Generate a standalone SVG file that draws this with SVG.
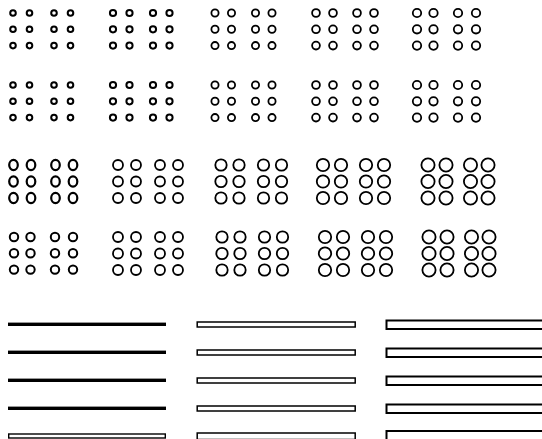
<svg xmlns="http://www.w3.org/2000/svg" width="542" height="439" viewBox="0 0 542 439">
<style>
circle,ellipse{fill:none;stroke:#000}
.s1{stroke-width:2}
.s2{stroke-width:1.8}
.s3{stroke-width:2.2}
.solid{fill:#000;stroke:none}
.hollow{fill:#fff;stroke:#000}
</style>
<rect width="542" height="439" fill="#fff"/>
<defs>
<g id="d1"><circle cx="0" cy="0" r="2.8"/><circle cx="16.5" cy="0" r="2.8"/><circle cx="41" cy="0" r="2.8"/><circle cx="57.5" cy="0" r="2.8"/><circle cx="0" cy="16.3" r="2.8"/><circle cx="16.5" cy="16.3" r="2.8"/><circle cx="41" cy="16.3" r="2.8"/><circle cx="57.5" cy="16.3" r="2.8"/><circle cx="0" cy="32.6" r="2.8"/><circle cx="16.5" cy="32.6" r="2.8"/><circle cx="41" cy="32.6" r="2.8"/><circle cx="57.5" cy="32.6" r="2.8"/></g>
<g id="d2"><circle cx="0" cy="0" r="3.1"/><circle cx="16.5" cy="0" r="3.1"/><circle cx="40" cy="0" r="3.1"/><circle cx="56.5" cy="0" r="3.1"/><circle cx="0" cy="16.3" r="3.1"/><circle cx="16.5" cy="16.3" r="3.1"/><circle cx="40" cy="16.3" r="3.1"/><circle cx="56.5" cy="16.3" r="3.1"/><circle cx="0" cy="32.6" r="3.1"/><circle cx="16.5" cy="32.6" r="3.1"/><circle cx="40" cy="32.6" r="3.1"/><circle cx="56.5" cy="32.6" r="3.1"/></g>
<g id="d3"><circle cx="0" cy="0" r="3.6"/><circle cx="16.5" cy="0" r="3.6"/><circle cx="40.5" cy="0" r="3.6"/><circle cx="57" cy="0" r="3.6"/><circle cx="0" cy="16.3" r="3.6"/><circle cx="16.5" cy="16.3" r="3.6"/><circle cx="40.5" cy="16.3" r="3.6"/><circle cx="57" cy="16.3" r="3.6"/><circle cx="0" cy="32.6" r="3.6"/><circle cx="16.5" cy="32.6" r="3.6"/><circle cx="40.5" cy="32.6" r="3.6"/><circle cx="57" cy="32.6" r="3.6"/></g>
<g id="d4"><circle cx="0" cy="0" r="3.9"/><circle cx="17" cy="0" r="3.9"/><circle cx="41" cy="0" r="3.9"/><circle cx="58" cy="0" r="3.9"/><circle cx="0" cy="16.3" r="3.9"/><circle cx="17" cy="16.3" r="3.9"/><circle cx="41" cy="16.3" r="3.9"/><circle cx="58" cy="16.3" r="3.9"/><circle cx="0" cy="32.6" r="3.9"/><circle cx="17" cy="32.6" r="3.9"/><circle cx="41" cy="32.6" r="3.9"/><circle cx="58" cy="32.6" r="3.9"/></g>
<g id="d5"><circle cx="0" cy="0" r="4.2"/><circle cx="16.5" cy="0" r="4.2"/><circle cx="41" cy="0" r="4.2"/><circle cx="59" cy="0" r="4.2"/><circle cx="0" cy="16.3" r="4.2"/><circle cx="16.5" cy="16.3" r="4.2"/><circle cx="41" cy="16.3" r="4.2"/><circle cx="59" cy="16.3" r="4.2"/><circle cx="0" cy="32.6" r="4.2"/><circle cx="16.5" cy="32.6" r="4.2"/><circle cx="41" cy="32.6" r="4.2"/><circle cx="59" cy="32.6" r="4.2"/></g>
<g id="e1"><ellipse cx="0" cy="0" rx="4.3" ry="5.1"/><ellipse cx="17.5" cy="0" rx="4.3" ry="5.1"/><ellipse cx="42" cy="0" rx="4.3" ry="5.1"/><ellipse cx="59.5" cy="0" rx="4.3" ry="5.1"/><ellipse cx="0" cy="16.5" rx="4.3" ry="5.1"/><ellipse cx="17.5" cy="16.5" rx="4.3" ry="5.1"/><ellipse cx="42" cy="16.5" rx="4.3" ry="5.1"/><ellipse cx="59.5" cy="16.5" rx="4.3" ry="5.1"/><ellipse cx="0" cy="33" rx="4.3" ry="5.1"/><ellipse cx="17.5" cy="33" rx="4.3" ry="5.1"/><ellipse cx="42" cy="33" rx="4.3" ry="5.1"/><ellipse cx="59.5" cy="33" rx="4.3" ry="5.1"/></g>
<g id="e2"><circle cx="0" cy="0" r="5"/><circle cx="18" cy="0" r="5"/><circle cx="42" cy="0" r="5"/><circle cx="60" cy="0" r="5"/><circle cx="0" cy="16.5" r="5"/><circle cx="18" cy="16.5" r="5"/><circle cx="42" cy="16.5" r="5"/><circle cx="60" cy="16.5" r="5"/><circle cx="0" cy="33" r="5"/><circle cx="18" cy="33" r="5"/><circle cx="42" cy="33" r="5"/><circle cx="60" cy="33" r="5"/></g>
<g id="e3"><circle cx="0" cy="0" r="5.7"/><circle cx="18" cy="0" r="5.7"/><circle cx="42.5" cy="0" r="5.7"/><circle cx="60.5" cy="0" r="5.7"/><circle cx="0" cy="16.5" r="5.7"/><circle cx="18" cy="16.5" r="5.7"/><circle cx="42.5" cy="16.5" r="5.7"/><circle cx="60.5" cy="16.5" r="5.7"/><circle cx="0" cy="33" r="5.7"/><circle cx="18" cy="33" r="5.7"/><circle cx="42.5" cy="33" r="5.7"/><circle cx="60.5" cy="33" r="5.7"/></g>
<g id="e4"><circle cx="0" cy="0" r="6.2"/><circle cx="18" cy="0" r="6.2"/><circle cx="43" cy="0" r="6.2"/><circle cx="61" cy="0" r="6.2"/><circle cx="0" cy="16.5" r="6.2"/><circle cx="18" cy="16.5" r="6.2"/><circle cx="43" cy="16.5" r="6.2"/><circle cx="61" cy="16.5" r="6.2"/><circle cx="0" cy="33" r="6.2"/><circle cx="18" cy="33" r="6.2"/><circle cx="43" cy="33" r="6.2"/><circle cx="61" cy="33" r="6.2"/></g>
<g id="e5"><circle cx="0" cy="0" r="6.6"/><circle cx="18" cy="0" r="6.6"/><circle cx="42.5" cy="0" r="6.6"/><circle cx="60" cy="0" r="6.6"/><circle cx="0" cy="16.5" r="6.6"/><circle cx="18" cy="16.5" r="6.6"/><circle cx="42.5" cy="16.5" r="6.6"/><circle cx="60" cy="16.5" r="6.6"/><circle cx="0" cy="33" r="6.6"/><circle cx="18" cy="33" r="6.6"/><circle cx="42.5" cy="33" r="6.6"/><circle cx="60" cy="33" r="6.6"/></g>
</defs>
<g id="row1" class="s1">
<g id="b11"><use href="#d1" x="13" y="13"/></g>
<g id="b12"><use href="#d2" x="113" y="13"/></g>
<g id="b13" class="s2"><use href="#d3" x="215" y="13"/></g>
<g id="b14" class="s2"><use href="#d4" x="316" y="13"/></g>
<g id="b15" class="s2"><use href="#d5" x="417" y="13"/></g>
</g>
<g id="row2" class="s1">
<g id="b21"><use href="#d1" x="13" y="85"/></g>
<g id="b22"><use href="#d2" x="113" y="85"/></g>
<g id="b23" class="s2"><use href="#d3" x="215" y="85"/></g>
<g id="b24" class="s2"><use href="#d4" x="316" y="85"/></g>
<g id="b25" class="s2"><use href="#d5" x="417" y="85"/></g>
</g>
<g id="row3" class="s2">
<g id="b31" class="s3"><use href="#e1" x="13.5" y="165"/></g>
<g id="b32"><use href="#e2" x="118" y="165"/></g>
<g id="b33"><use href="#e3" x="221" y="165"/></g>
<g id="b34"><use href="#e4" x="323" y="165"/></g>
<g id="b35"><use href="#e5" x="428" y="165"/></g>
</g>
<g id="row4" class="s2">
<g id="b41" class="s1"><use href="#d5" x="14" y="237"/></g>
<g id="b42"><use href="#e2" x="118" y="237"/></g>
<g id="b43"><use href="#e3" x="222" y="237"/></g>
<g id="b44"><use href="#e4" x="325" y="237"/></g>
<g id="b45"><use href="#e5" x="429" y="237"/></g>
</g>
<g id="lines">
<rect class="solid" x="8" y="322.6" width="158" height="3.4"/>
<rect class="solid" x="8" y="350.6" width="158" height="3.4"/>
<rect class="solid" x="8" y="378.6" width="158" height="3.4"/>
<rect class="solid" x="8" y="406.6" width="158" height="3.4"/>
<rect class="hollow" x="8.7" y="434" width="156.6" height="4" stroke-width="1.4"/>
<rect class="hollow" x="197.2" y="322" width="158" height="5" stroke-width="1.5"/>
<rect class="hollow" x="197.2" y="350" width="158" height="5" stroke-width="1.5"/>
<rect class="hollow" x="197.2" y="378" width="158" height="5" stroke-width="1.5"/>
<rect class="hollow" x="197.2" y="406" width="158" height="5" stroke-width="1.5"/>
<rect class="hollow" x="197.2" y="433" width="158" height="6.5" stroke-width="1.5"/>
<rect class="hollow" x="386.5" y="320.5" width="170" height="8.5" stroke-width="2"/>
<rect class="hollow" x="386.5" y="348.5" width="170" height="8.5" stroke-width="2"/>
<rect class="hollow" x="386.5" y="376.5" width="170" height="8.5" stroke-width="2"/>
<rect class="hollow" x="386.5" y="404.5" width="170" height="8.5" stroke-width="2"/>
<rect class="hollow" x="386.5" y="431" width="170" height="12" stroke-width="2"/>
</g>
</svg>
